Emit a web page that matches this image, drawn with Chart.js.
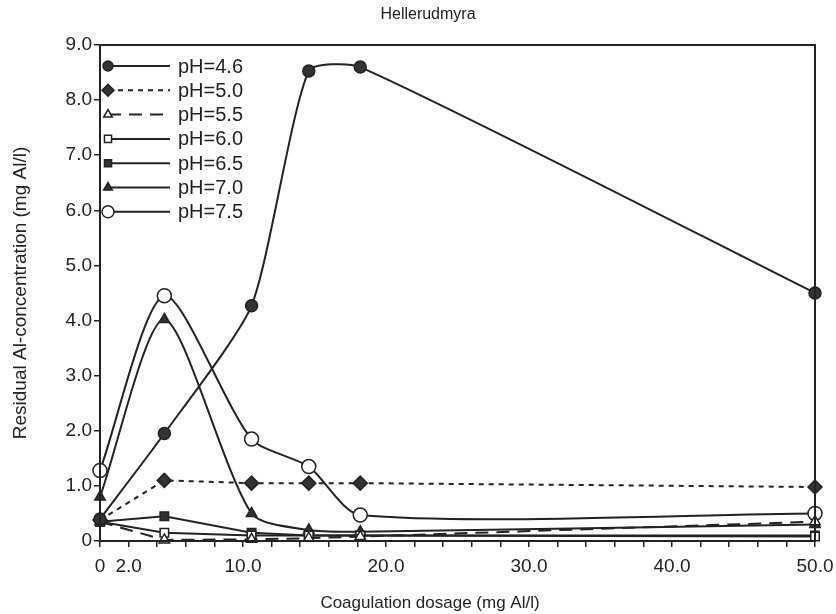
<!DOCTYPE html>
<html>
<head>
<title>Hellerudmyra</title>
<script src="https://cdn.jsdelivr.net/npm/chart.js"></script>
<style>
  body { margin: 0; background: #fff; }
  #wrap { width: 836px; height: 614px; }
</style>
</head>
<body>
<div id="wrap"><canvas id="chart" width="836" height="614"></canvas></div>
<script>
// coagulation dosage (mg Al/l)
var doses = [0, 4.5, 10.6, 14.6, 18.2, 50];
var labels = ['pH=4.6', 'pH=5.0', 'pH=5.5', 'pH=6.0', 'pH=6.5', 'pH=7.0', 'pH=7.5'];
// residual Al-concentration (mg Al/l)
var ph46 = [0.40, 1.95, 4.27, 8.53, 8.60, 4.50];
var ph50 = [0.38, 1.10, 1.05, 1.05, 1.05, 0.98];
var ph55 = [0.35, 0.02, 0.03, 0.05, 0.08, 0.35];
var ph60 = [0.35, 0.15, 0.10, 0.10, 0.10, 0.08];
var ph65 = [0.35, 0.45, 0.15, 0.10, 0.10, 0.10];
var ph70 = [0.80, 4.02, 0.50, 0.20, 0.17, 0.30];
var ph75 = [1.28, 4.45, 1.85, 1.35, 0.47, 0.50];
var xLabelled = [0, 2, 10, 20, 30, 40, 50];

var ink = '#222';
var font = '"Liberation Sans", Arial, sans-serif';

function pts(vals) {
  return vals.map(function(v, i) { return {x: doses[i], y: v}; });
}
function ds(i, vals, style, radius, filled, dash, tension) {
  return {
    label: labels[i],
    data: pts(vals),
    borderColor: ink,
    borderWidth: 2,
    borderDash: dash || [],
    pointStyle: style,
    pointRadius: radius,
    pointBorderWidth: 1.5,
    pointBorderColor: ink,
    pointBackgroundColor: filled ? '#333' : '#fff',
    tension: tension || 0,
    clip: false
  };
}

var datasets = [
  ds(0, ph46, 'circle', 6, true, null, 0.2),
  ds(1, ph50, 'rectRot', 7, true, [5, 5]),
  ds(2, ph55, 'triangle', 6, false, [13, 8]),
  ds(3, ph60, 'rect', 6, false),
  ds(4, ph65, 'rect', 6, true),
  ds(5, ph70, 'triangle', 6, true, null, 0.25),
  ds(6, ph75, 'circle', 7, false, null, 0.25)
];

var frame = {
  id: 'frame',
  afterDatasetsDraw: function(chart) {
    var c = chart.ctx, a = chart.chartArea;
    c.save();
    c.strokeStyle = ink;
    c.lineWidth = 2;
    c.strokeRect(a.left, a.top, a.right - a.left, a.bottom - a.top);
    // titles sit a bit left of the plot centre in the scan
    c.fillStyle = ink;
    c.textAlign = 'center';
    c.textBaseline = 'middle';
    c.font = '16px ' + font;
    c.fillText('Hellerudmyra', 428, 15);
    c.font = '17px ' + font;
    c.fillText('Coagulation dosage (mg Al/l)', 430, 603);
    c.restore();
  }
};

// legend drawn as in the original: marker, line sample, text
var sideLegend = {
  id: 'sideLegend',
  afterDraw: function(chart) {
    var c = chart.ctx;
    c.save();
    chart.data.datasets.forEach(function(d, i) {
      var y = 66 + i * 24.3;
      c.strokeStyle = ink;
      c.lineWidth = 2;
      c.setLineDash(d.borderDash);
      c.beginPath();
      c.moveTo(108, y);
      c.lineTo(170, y);
      c.stroke();
      c.setLineDash([]);
      c.fillStyle = d.pointBackgroundColor;
      c.lineWidth = 1.5;
      Chart.helpers.drawPoint(c, {pointStyle: d.pointStyle, radius: d.pointRadius - 1, borderWidth: 1.5}, 108, y);
      c.fillStyle = ink;
      c.font = '20px ' + font;
      c.textBaseline = 'middle';
      c.fillText(d.label, 178, y + 1);
    });
    c.restore();
  }
};

new Chart(document.getElementById('chart'), {
  type: 'line',
  data: {datasets: datasets},
  plugins: [frame, sideLegend],
  options: {
    responsive: false,
    animation: false,
    layout: {padding: {left: 0, right: 21, top: 45, bottom: 0}},
    plugins: {
      legend: {display: false},
      tooltip: {enabled: false},
      title: {display: false}
    },
    scales: {
      x: {
        type: 'linear',
        min: 0,
        max: 50,
        afterFit: function(s) { s.height = 73; s.paddingLeft = 0; s.paddingRight = 0; },
        afterBuildTicks: function(s) {
          var t = [];
          for (var v = 0; v <= 50; v += 2) t.push({value: v});
          s.ticks = t;
        },
        ticks: {
          autoSkip: false,
          maxRotation: 0,
          padding: 8,
          color: ink,
          font: {family: font, size: 19},
          callback: function(v) {
            if (xLabelled.indexOf(v) < 0) return '';
            return v === 0 ? '0' : v.toFixed(1);
          }
        },
        grid: {drawOnChartArea: false, tickLength: 6, color: ink, lineWidth: 1.5},
        border: {color: ink, width: 2}
      },
      y: {
        min: 0,
        max: 9,
        afterFit: function(s) { s.width = 100; },
        ticks: {
          stepSize: 1,
          padding: 2,
          color: ink,
          font: {family: font, size: 19},
          callback: function(v) { return v === 0 ? '0' : v.toFixed(1); }
        },
        grid: {drawOnChartArea: false, tickLength: 6, color: ink, lineWidth: 1.5},
        border: {color: ink, width: 2},
        title: {
          display: true,
          text: 'Residual Al-concentration (mg Al/l)',
          color: ink,
          font: {family: font, size: 19},
          padding: {top: 9, bottom: 2}
        }
      }
    }
  }
});
</script>
</body>
</html>
